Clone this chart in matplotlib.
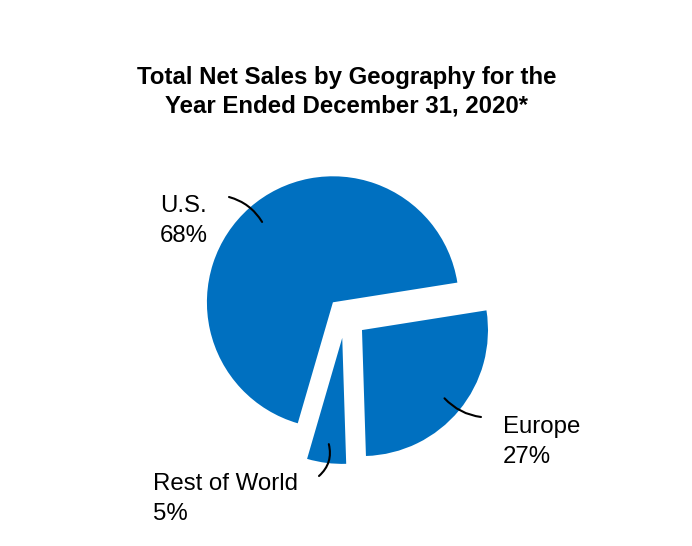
import matplotlib
matplotlib.use("Agg")
import matplotlib.pyplot as plt
import numpy as np

# ---- data ----
regions = ["U.S.", "Rest of World", "Europe"]
shares = [68, 5, 27]
explode_frac = [0.145, 0.175, 0.175]
title = "Total Net Sales by Geography for the\nYear Ended December 31, 2020*"

W, H = 692, 546
BLUE = "#0070C0"

plt.rcParams['font.family'] = ['Liberation Sans', 'DejaVu Sans']

fig = plt.figure(figsize=(W / 100, H / 100), dpi=100)
ax = fig.add_axes([0, 0, 1, 1])

def sy(y):
    return H - y

cx, cy, R = 345, sy(316), 126
wedges, _ = ax.pie(shares, explode=[e * R for e in explode_frac],
                   colors=[BLUE] * len(shares),
                   startangle=9, counterclock=True, radius=R, center=(cx, cy),
                   wedgeprops=dict(linewidth=0), frame=True)
ax.set_xlim(0, W)
ax.set_ylim(0, H)
ax.set_aspect('equal')
ax.axis('off')

fig.text(347 / W, sy(112.5) / H, title, ha='center', va='baseline',
         fontsize=17.3, fontweight='bold', linespacing=1.33, color='black')

# label layout: (text left x, baseline of first line), leader end, rad
label_pos = {
    "U.S.": ((160, 212), (229, 197), -0.2),
    "Rest of World": ((153, 490), (319, 476), 0.3),
    "Europe": ((503, 433), (481, 417), -0.18),
}

for w, name, v in zip(wedges, regions, shares):
    (tx, ty), (lx, ly), rad = label_pos[name]
    ax.text(tx, sy(ty), name, fontsize=17.3, ha='left', va='baseline')
    ax.text(tx, sy(ty + 30), f"{v}%", fontsize=17.3, ha='left', va='baseline')
    ang = np.deg2rad((w.theta1 + w.theta2) / 2)
    px = w.center[0] + 0.85 * w.r * np.cos(ang)
    py = w.center[1] + 0.85 * w.r * np.sin(ang)
    ax.annotate("", xy=(px, py), xytext=(lx, sy(ly)),
                arrowprops=dict(arrowstyle='-', color='black', lw=1.5,
                                shrinkA=0, shrinkB=0,
                                connectionstyle=f"arc3,rad={rad}"))

fig.savefig("out.png", dpi=100, facecolor='white')
